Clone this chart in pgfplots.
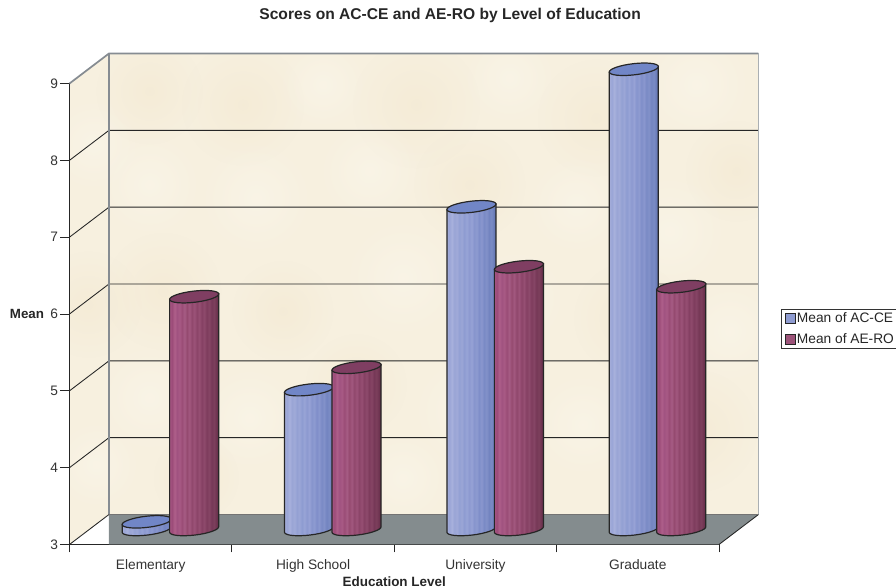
\documentclass[border=0pt]{standalone}
\usepackage{pgfplots}
\usepackage{pgfplotstable}
\usepackage{fontspec}
\usetikzlibrary{fadings}
\setmainfont{Liberation Sans}
\pgfplotsset{compat=1.18}

% Mean scores per education level
\pgfplotstableread{
pos mean
0.5 3.10
1.5 4.82
2.5 7.20
3.5 8.99
}\acce
\pgfplotstableread{
pos mean
0.5 6.03
1.5 5.11
2.5 6.42
3.5 6.16
}\aero

% Stripe palettes for the cylinder bodies
\definecolor{a0}{HTML}{A5AEDA}\definecolor{a1}{HTML}{9AA5D6}\definecolor{a2}{HTML}{A8B1DC}
\definecolor{a3}{HTML}{99A4D5}\definecolor{a4}{HTML}{A0AAD8}\definecolor{a5}{HTML}{93A0D3}
\definecolor{a6}{HTML}{9BA6D6}\definecolor{a7}{HTML}{8D9BD1}\definecolor{a8}{HTML}{98A4D6}
\definecolor{a9}{HTML}{8C99D0}\definecolor{a10}{HTML}{97A2D5}\definecolor{a11}{HTML}{8694CD}
\definecolor{a12}{HTML}{8E9BD0}\definecolor{a13}{HTML}{7F8EC9}\definecolor{a14}{HTML}{8A97CE}
\definecolor{a15}{HTML}{7A8AC5}\definecolor{a16}{HTML}{8291C9}\definecolor{a17}{HTML}{7384C0}
\definecolor{a18}{HTML}{7A8BC4}\definecolor{a19}{HTML}{6B7DB9}\definecolor{a20}{HTML}{5E6FA9}
\definecolor{r0}{HTML}{A65683}\definecolor{r1}{HTML}{9C4C79}\definecolor{r2}{HTML}{AE5F8A}
\definecolor{r3}{HTML}{A05280}\definecolor{r4}{HTML}{A85A85}\definecolor{r5}{HTML}{9A4C76}
\definecolor{r6}{HTML}{A65C84}\definecolor{r7}{HTML}{954A70}\definecolor{r8}{HTML}{A2587F}
\definecolor{r9}{HTML}{90476C}\definecolor{r10}{HTML}{9C5379}\definecolor{r11}{HTML}{8B4468}
\definecolor{r12}{HTML}{964F73}\definecolor{r13}{HTML}{854063}\definecolor{r14}{HTML}{8E4A6C}
\definecolor{r15}{HTML}{7E3C5D}\definecolor{r16}{HTML}{864565}\definecolor{r17}{HTML}{763857}
\definecolor{r18}{HTML}{7C3F5C}\definecolor{r19}{HTML}{6E3350}\definecolor{r20}{HTML}{5F2B45}
\definecolor{acceTop}{HTML}{7186C7}
\definecolor{aeroTop}{HTML}{7F3E62}
\definecolor{wall}{HTML}{F7F0DF}
\definecolor{wallpale}{HTML}{FBF7EC}
\definecolor{walldeep}{HTML}{F3E8D0}
\definecolor{floorgray}{HTML}{848C8E}
\definecolor{edgegray}{HTML}{868C92}

\tikzfading[name=softblob,inner color=transparent!45,outer color=transparent!100]

\pgfdeclarehorizontalshading{acceBody}{100bp}{color(0bp)=(a0);color(25bp)=(a0);color(27.5bp)=(a1);color(30bp)=(a2);color(32.5bp)=(a3);color(35bp)=(a4);color(37.5bp)=(a5);color(40bp)=(a6);color(42.5bp)=(a7);color(45bp)=(a8);color(47.5bp)=(a9);color(50bp)=(a10);color(52.5bp)=(a11);color(55bp)=(a12);color(57.5bp)=(a13);color(60bp)=(a14);color(62.5bp)=(a15);color(65bp)=(a16);color(67.5bp)=(a17);color(70bp)=(a18);color(72.5bp)=(a19);color(75bp)=(a20);color(100bp)=(a20)}
\pgfdeclarehorizontalshading{aeroBody}{100bp}{color(0bp)=(r0);color(25bp)=(r0);color(27.5bp)=(r1);color(30bp)=(r2);color(32.5bp)=(r3);color(35bp)=(r4);color(37.5bp)=(r5);color(40bp)=(r6);color(42.5bp)=(r7);color(45bp)=(r8);color(47.5bp)=(r9);color(50bp)=(r10);color(52.5bp)=(r11);color(55bp)=(r12);color(57.5bp)=(r13);color(60bp)=(r14);color(62.5bp)=(r15);color(65bp)=(r16);color(67.5bp)=(r17);color(70bp)=(r18);color(72.5bp)=(r19);color(75bp)=(r20);color(100bp)=(r20)}

% A cylinder whose top sits on the data point; its body reaches down to the floor level.
% It stands half the floor depth behind the front plane, at its own offset within the category.
\newcommand{\cylinder}[3]{%
  \pgftransformshift{\pgfpoint{#3}{11.25pt}}%
  \pgfmathsetmacro\cylh{(\barvalue-3)*57.625}%
  \path[draw=black!85,line width=0.9pt,shade,shading=#1]
    (-18.4pt,-2.14pt) -- (-18.4pt,-2.14pt-\cylh pt)
    .. controls (-18.13pt,-4.44pt-\cylh pt) and (-9.67pt,-5.35pt-\cylh pt) .. (0.49pt,-4.17pt-\cylh pt)
    .. controls (10.65pt,-2.99pt-\cylh pt) and (18.67pt,-0.16pt-\cylh pt) .. (18.4pt,2.14pt-\cylh pt)
    -- (18.4pt,2.14pt) -- cycle;
  \pgfsetlinewidth{0.9pt}%
  \pgfsetstrokecolor{black!85}%
  \pgfsetfillcolor{#2}%
  \pgfpathellipse{\pgfpointorigin}{\pgfpoint{18.4pt}{2.14pt}}{\pgfpoint{-0.49pt}{4.17pt}}%
  \pgfusepath{fill,stroke}%
}
\pgfdeclareplotmark{acceCylinder}{\cylinder{acceBody}{acceTop}{-3pt}}
\pgfdeclareplotmark{aeroCylinder}{\cylinder{aeroBody}{aeroTop}{32.6pt}}

\pgfplotsset{
  cylinders/.style={
    scatter, only marks, mark=#1,
    scatter/@pre marker code/.code={\begingroup},
    scatter/@post marker code/.code={\endgroup},
    visualization depends on={y \as \barvalue},
  },
  wallline/.style={draw=edgegray,line width=1.3pt,forget plot},
  gridline/.style={draw=black!85,line width=0.65pt,forget plot},
}

\begin{document}
\begin{tikzpicture}
% Page frame: 896 x 588 at 0.75pt per pixel, axis corner at (69.5, 43.5)
\path[use as bounding box] (-52.125pt,-32.625pt) rectangle (619.875pt,408.375pt);
% Parchment walls behind the axis
\begin{scope}
  \clip (0pt,0pt) -- (0pt,345.75pt) -- (29.6pt,368.25pt) -- (516.7pt,368.25pt) -- (516.7pt,22.5pt) -- (29.6pt,22.5pt) -- cycle;
  \fill[wall] (0pt,0pt) rectangle (517pt,369pt);
  \foreach \cx/\cy/\rad/\tone in {
    20/60/34/wallpale, 14/180/40/walldeep, 18/300/36/wallpale, 60/340/40/walldeep,
    130/330/46/walldeep, 190/345/34/wallpale, 260/330/48/walldeep, 330/350/36/wallpale,
    395/320/44/walldeep, 470/345/42/wallpale, 500/280/38/walldeep, 60/270/40/wallpale,
    140/260/44/wallpale, 225/280/40/wallpale, 300/270/42/walldeep, 380/255/38/wallpale,
    450/235/44/wallpale, 70/190/44/walldeep, 160/175/38/walldeep, 250/200/46/wallpale,
    335/185/38/wallpale, 420/170/42/walldeep, 495/160/40/wallpale, 60/110/42/wallpale,
    135/95/40/wallpale, 215/120/38/walldeep, 300/100/44/wallpale, 385/90/40/wallpale,
    470/85/46/walldeep, 95/50/32/walldeep, 250/50/36/wallpale, 430/45/32/wallpale}
    {\fill[\tone,path fading=softblob] (\cx pt,\cy pt) circle (\rad pt);}
\end{scope}
\begin{axis}[
  at={(0,0)}, anchor=south west,
  scale only axis, width=487.125pt, height=345.75pt,
  xmin=0, xmax=4, ymin=3, ymax=9,
  clip=false,
  axis x line*=bottom, axis y line*=left,
  axis line style={draw=black!85,line width=0.7pt},
  tick align=outside,
  font=\fontsize{10.3pt}{12pt}\selectfont,
  every tick label/.append style={text=black!80},
  /pgf/number format/assume math mode=true,
  ytick={3,...,9},
  ytick style={draw=black!85,line width=0.7pt},
  major tick length=7pt,
  yticklabel style={xshift=2pt},
  xtick={0,1,2,3,4},
  xticklabels={},
  xtick style={draw=black!85,line width=0.7pt,/pgfplots/major tick length=6pt},
  extra x ticks={0.5,1.5,2.5,3.5},
  extra x tick labels={Elementary,High School,University,Graduate},
  extra x tick style={xtick style={draw=none},xticklabel style={yshift=-1pt}},
  title={\bfseries Scores on AC-CE and AE-RO by Level of Education},
  title style={at={(axis description cs:0.586,1.1465)},anchor=center,yshift=-6pt,font=\fontsize{11.7pt}{13pt}\selectfont,text=black!85},
  xlabel={\bfseries Education Level},
  xlabel style={at={(axis description cs:0.5,-0.0815)},anchor=center,font=\fontsize{10.1pt}{12pt}\selectfont,text=black!85},
  ylabel={\bfseries Mean},
  ylabel style={at={(axis description cs:-0.0655,0.499)},anchor=center,rotate=-90,font=\fontsize{10pt}{12pt}\selectfont,text=black!85},
  legend style={
    at={(axis description cs:1.0955,0.511)},anchor=north west,
    draw=black!80,line width=0.5pt,
    font=\fontsize{10.3pt}{12pt}\selectfont,
    inner xsep=2.5pt,inner ysep=1.5pt,
    row sep=4.5pt,
    nodes={inner sep=1pt,text=black!85},
    legend cell align=left,
  },
]
% Floor
\addplot[fill=floorgray,draw=none,forget plot] coordinates {(.2432,3.3905)(4.2432,3.3905)(4,3)(.2432,3)} -- cycle;
% Value lines along the side wall and back wall
\addplot[gridline] coordinates {(0,4)(.2432,4.3905)(4.2432,4.3905)};
\addplot[gridline] coordinates {(0,5)(.2432,5.3905)(4.2432,5.3905)};
\addplot[gridline] coordinates {(0,6)(.2432,6.3905)(4.2432,6.3905)};
\addplot[gridline] coordinates {(0,7)(.2432,7.3905)(4.2432,7.3905)};
\addplot[gridline] coordinates {(0,8)(.2432,8.3905)(4.2432,8.3905)};
\addplot[gridline] coordinates {(0,3)(.2432,3.3905)};
\addplot[gridline] coordinates {(4,3)(4.2432,3.3905)};
% Wall edges
\addplot[wallline] coordinates {(0,9)(.2432,9.3905)(4.2432,9.3905)};
\addplot[wallline] coordinates {(.2432,3.3905)(.2432,9.3905)};
\addplot[wallline,draw=edgegray!70,line width=1pt] coordinates {(4.2432,3.3905)(4.2432,9.3905)};
\addplot[wallline,draw=black!55,line width=0.9pt] coordinates {(.2432,3.3905)(4.2432,3.3905)};
% Cylinders
\addplot[cylinders=acceCylinder,
  legend image code/.code={\draw[draw=black!85,fill=a12,line width=0.6pt] (0.4pt,-3.6pt) rectangle (8pt,3.6pt);}]
  table[x=pos,y=mean] {\acce};
\addlegendentry{Mean of AC-CE}
\addplot[cylinders=aeroCylinder,
  legend image code/.code={\draw[draw=black!85,fill=r10,line width=0.6pt] (0.4pt,-3.6pt) rectangle (8pt,3.6pt);}]
  table[x=pos,y=mean] {\aero};
\addlegendentry{Mean of AE-RO}
\end{axis}
\end{tikzpicture}
\end{document}
